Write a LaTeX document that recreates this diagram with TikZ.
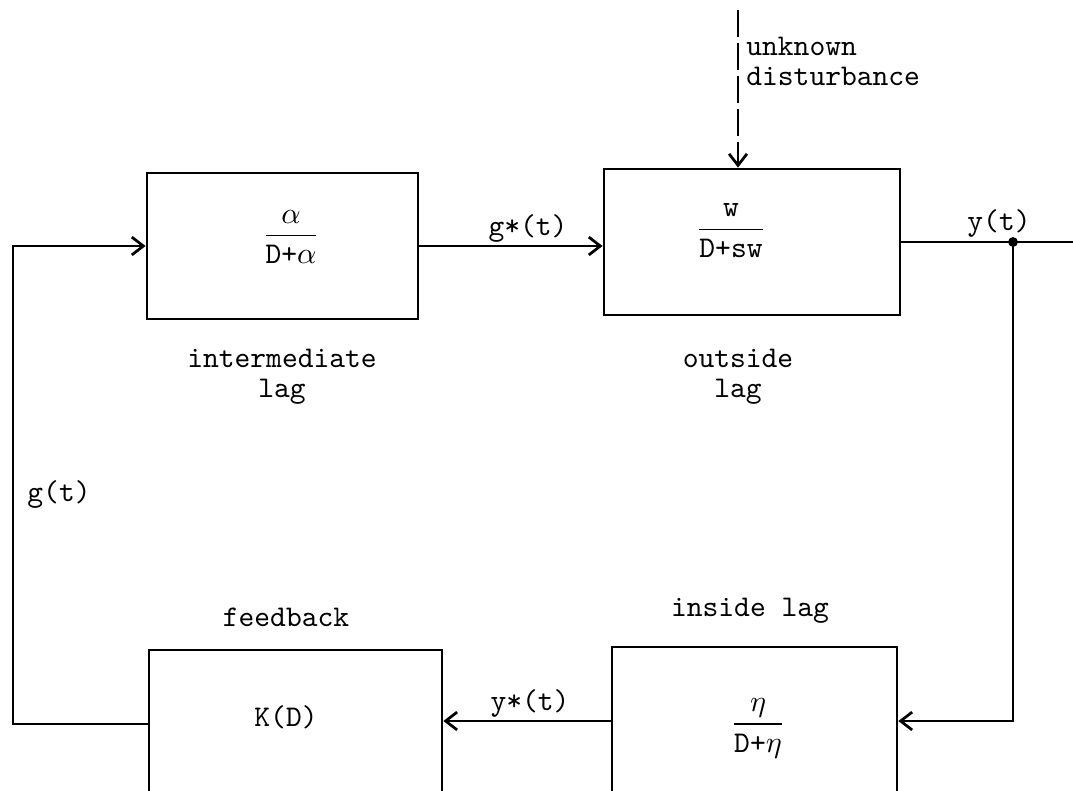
\documentclass[tikz,border=0pt]{standalone}
\usepackage{amsmath}
\usepackage{tikz}
\usetikzlibrary{arrows.meta,positioning}

\begin{document}
\begin{tikzpicture}[x=0.0128cm, y=-0.0128cm, line width=1pt,
  every node/.style={font=\ttfamily\fontsize{10.95}{11}\selectfont},
  block/.style={draw, rectangle, inner sep=0pt},
  flow/.style={-{Straight Barb[length=4.2pt,width=6.5pt]}},
  disturb/.style={flow, dash pattern=on 10pt off 2pt}]
\useasboundingbox (0,0) rectangle (1073,790);
\clip (0,0) rectangle (1073,790);

% the four blocks (the lower two run off the page)
\node[block, minimum width=3.47cm, minimum height=1.87cm] (inter) at (282.5,246) {};
\node[block, minimum width=3.79cm, minimum height=1.87cm] (outside) at (752,242) {};
\node[block, minimum width=3.75cm, minimum height=1.894cm] (feedback) at (295.5,724) {};
\node[block, minimum width=3.648cm, minimum height=1.894cm] (inside) at (754.5,721) {};

% transfer functions
\node (interfrac) at (291,237) {$\dfrac{\alpha}{\texttt{D+}\alpha}$};
\node (outfrac) at (731,231) {$\dfrac{\texttt{w}}{\texttt{D+sw}}$};
\node (insfrac) at (758,728) {$\dfrac{\eta}{\texttt{D+}\eta}$};
\node (kd) at (286,717) {K(D)};

% block names
\node[align=center] (interlbl) at (282,377) {intermediate\\lag};
\node[align=center] (outlbl) at (738,377) {outside\\lag};
\node (fblbl) at (286,617) {feedback};
\node (inslbl) at (750,611) {inside lag};

% disturbance from above
\coordinate (dist) at (738,10);
\draw[disturb] (dist) -- (dist |- outside.north);
\node[align=left, anchor=north west, inner sep=0pt] (distlbl) at (745,36) {unknown\\disturbance};

% forward path
\draw[flow] (inter.east) -- (inter.east -| outside.west);
\node (gstar) at (528,228) {g*(t)};

\coordinate (tap) at (1013,242);
\coordinate (out) at (1073,242);
\draw (outside.east) -- (out);
\fill (tap) circle (1.8pt);
\node (ylbl) at (999,223) {y(t)};

% return path
\draw[flow] (tap) |- (inside.east);
\draw[flow] (inside.west) -- (inside.west -| feedback.east);
\node (ystar) at (530,703) {y*(t)};

\coordinate (corner) at (13,724);
\draw[flow] (feedback.west) -- (corner) |- (inter.west);
\node (glbl) at (59,494) {g(t)};
\end{tikzpicture}
\end{document}
